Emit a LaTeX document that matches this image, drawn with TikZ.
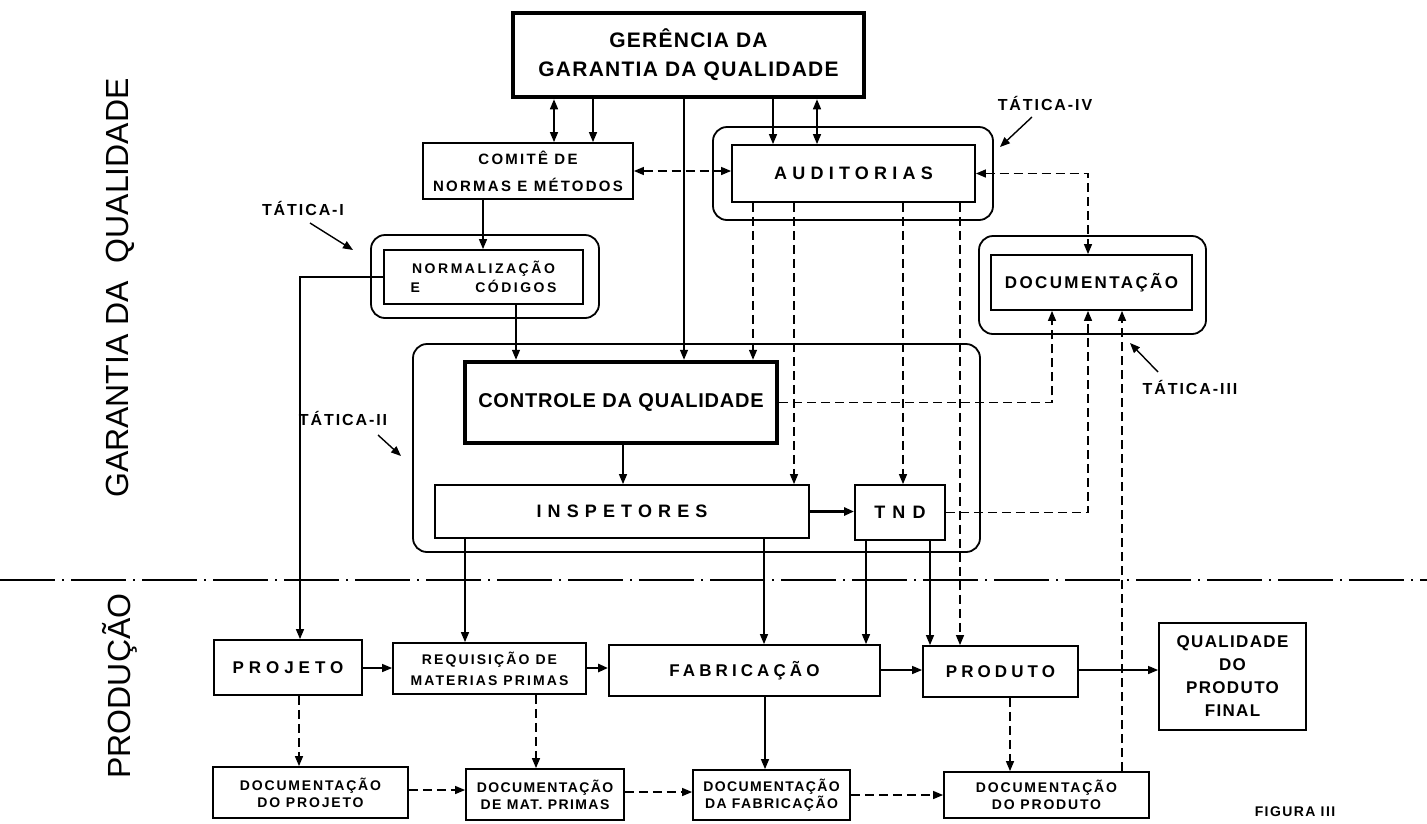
\documentclass[tikz,border=0pt]{standalone}
\usepackage{fontspec}
\setmainfont{Liberation Sans}
\usetikzlibrary{arrows.meta,calc}
\newcommand\fz[3]{\fontsize{#1}{#2}\selectfont\addfontfeatures{LetterSpace=#3}}
\newcommand\bx[7]{\node[#6, minimum width={(#4-#2)*1pt}, minimum height={(#5-#3)*1pt}] (#1) at ({(#2+#4)/2},{(#3+#5)/2}) {#7};}
\begin{document}
\begin{tikzpicture}[x=1pt,y=-1pt,
  box/.style={draw, line width=1.8pt, inner sep=0pt, align=center, font=\bfseries},
  thickbox/.style={draw, line width=4.5pt, inner sep=0pt, align=center},
  group/.style={draw, line width=1.8pt, rounded corners=14pt, inner sep=0pt},
  conn/.style={line width=1.4pt},
  arr/.style={conn, -{Triangle[length=10pt,width=8pt]}},
  darr/.style={conn, {Triangle[length=10pt,width=8pt]}-{Triangle[length=10pt,width=8pt]}},
  dsh/.style={dash pattern=on 9pt off 5pt},
  tat/.style={font=\bfseries\fz{16}{19}{12}, inner sep=0pt},
  side/.style={rotate=90, inner sep=0pt, font=\fontsize{32}{36}\selectfont}
]
\useasboundingbox (0,0) rectangle (1427,823);

% side labels
\node[side] (gq) at (120,288) {GARANTIA DA\ \ QUALIDADE};
\node[side] (pr) at (120,686) {PRODUÇÃO};

% groups
\bx{audG}{713}{127}{993}{220}{group}{}
\bx{docG}{979}{236}{1206}{334}{group}{}
\bx{normG}{371}{235}{599}{318}{group}{}
\bx{ctrlG}{413}{344}{980}{552}{group}{}

% boxes
\bx{ger}{513}{13}{864}{97}{thickbox, font=\bfseries\fz{21}{29}{6}}{GERÊNCIA DA\\GARANTIA DA QUALIDADE}
\bx{com}{423}{143}{633}{199}{box, font=\bfseries\fz{15}{27}{15}}{COMITÊ DE\\NORMAS E MÉTODOS}
\bx{aud}{732}{145}{975}{202}{box, font=\bfseries\fz{18}{21}{29}}{AUDITORIAS}
\bx{doc}{991}{255}{1192}{310}{box, font=\bfseries\fz{17}{20}{14}}{DOCUMENTAÇÃO}
\bx{norm}{384}{250}{583}{304}{box, font=\bfseries\fz{14}{19}{18}}{NORMALIZAÇÃO\\\makebox[146pt]{E\hfill CÓDIGOS}}
\bx{ctrl}{465}{362}{777}{443}{thickbox, font=\bfseries\fz{20}{23}{4}}{CONTROLE\ DA QUALIDADE}
\bx{insp}{435}{485}{809}{538}{box, font=\bfseries\fz{18}{21}{34}}{INSPETORES}
\bx{tnd}{855}{485}{945}{540}{box, font=\bfseries\fz{18}{21}{40}}{TND}
\bx{proj}{214}{640}{362}{695}{box, font=\bfseries\fz{17}{20}{29}}{PROJETO}
\bx{req}{393}{643}{586}{694}{box, font=\bfseries\fz{14}{21}{15}}{REQUISIÇÃO DE\\MATERIAS PRIMAS}
\bx{fab}{609}{645}{880}{696}{box, font=\bfseries\fz{17}{20}{24}}{FABRICAÇÃO}
\bx{prod}{923}{646}{1078}{697}{box, font=\bfseries\fz{17}{20}{24}}{PRODUTO}
\bx{qual}{1159}{623}{1306}{730}{box, font=\bfseries\fz{17}{23}{8}}{QUALIDADE\\DO\\PRODUTO\\FINAL}
\bx{dproj}{213}{767}{408}{818}{box, font=\bfseries\fz{14}{17}{13}}{DOCUMENTAÇÃO\\DO PROJETO}
\bx{dmat}{466}{769}{624}{820}{box, font=\bfseries\fz{14}{17}{10}}{DOCUMENTAÇÃO\\DE MAT. PRIMAS}
\bx{dfab}{693}{770}{850}{820}{box, font=\bfseries\fz{14}{17}{10}}{DOCUMENTAÇÃO\\DA FABRICAÇÃO}
\bx{dprod}{944}{772}{1149}{818}{box, font=\bfseries\fz{14}{17}{13}}{DOCUMENTAÇÃO\\DO PRODUTO}

% tactic labels
\node[tat] (t1) at (303,208) {TÁTICA-I};
\node[tat] (t2) at (343,418) {TÁTICA-II};
\node[tat] (t3) at (1190,387) {TÁTICA-III};
\node[tat] (t4) at (1045,103) {TÁTICA-IV};
\coordinate (t1s) at (310,223); \coordinate (t1e) at (353,250);
\coordinate (t2s) at (378,435); \coordinate (t2e) at (401,456);
\coordinate (t3s) at (1158,372); \coordinate (t3e) at (1130,343);
\coordinate (t4s) at (1032,117); \coordinate (t4e) at (1000,147);
\draw[arr] (t1s) -- (t1e);
\draw[arr] (t2s) -- (t2e);
\draw[arr] (t3s) -- (t3e);
\draw[arr] (t4s) -- (t4e);

\node[font=\bfseries\fz{14}{17}{10}, inner sep=0pt] (fig) at (1295,812) {FIGURA III};

% separator
\coordinate (sepL) at (0,580); \coordinate (sepR) at (1427,580);
\draw[line width=1.8pt, dash pattern=on 55pt off 7pt on 2pt off 7pt] (sepL) -- (sepR);

% connectors
\draw[darr] (554,0 |- ger.south) -- (554,0 |- com.north);
\draw[arr] (593,0 |- ger.south) -- (593,0 |- com.north);
\draw[arr] (684,0 |- ger.south) -- (684,0 |- ctrl.north);
\draw[arr] (773,0 |- ger.south) -- (773,0 |- aud.north);
\draw[darr] (817,0 |- ger.south) -- (817,0 |- aud.north);
\draw[darr,dsh] (com.east) -- (com.east -| aud.west);
\draw[arr] (483,0 |- com.south) -- (483,0 |- norm.north);
\draw[arr] (516,0 |- norm.south) -- (516,0 |- ctrl.north);
\draw[arr] (norm.west) -| (300,0 |- proj.north);
\draw[darr,dsh] (aud.east) -| (1088,0 |- doc.north);
\draw[arr,dsh] (753,0 |- aud.south) -- (753,0 |- ctrl.north);
\draw[arr,dsh] (794,0 |- aud.south) -- (794,0 |- insp.north);
\draw[arr,dsh] (903,0 |- aud.south) -- (903,0 |- tnd.north);
\draw[arr,dsh] (960,0 |- aud.south) -- (960,0 |- prod.north);
\draw[arr,dsh] (ctrl.east) -| (1052,0 |- doc.south);
\draw[arr] (623,0 |- ctrl.south) -- (623,0 |- insp.north);
\draw[arr, line width=2.6pt] (insp.east) -- (insp.east -| tnd.west);
\draw[arr,dsh] (tnd.east) -| (1088,0 |- doc.south);
\draw[arr] (465,0 |- insp.south) -- (465,0 |- req.north);
\draw[arr] (764,0 |- insp.south) -- (764,0 |- fab.north);
\draw[arr] (866,0 |- tnd.south) -- (866,0 |- fab.north);
\draw[arr] (930,0 |- tnd.south) -- (930,0 |- prod.north);
\draw[arr] (proj.east |- 0,668) -- (req.west |- 0,668);
\draw[arr, line width=2.6pt] (req.east |- 0,668) -- (fab.west |- 0,668);
\draw[arr] (fab.east |- 0,670) -- (prod.west |- 0,670);
\draw[arr] (prod.east |- 0,670) -- (qual.west |- 0,670);
\draw[arr,dsh] (299,0 |- proj.south) -- (299,0 |- dproj.north);
\draw[arr,dsh] (536,0 |- req.south) -- (536,0 |- dmat.north);
\draw[arr] (765,0 |- fab.south) -- (765,0 |- dfab.north);
\draw[arr,dsh] (1010,0 |- prod.south) -- (1010,0 |- dprod.north);
\draw[arr,dsh] (dproj.east |- 0,790) -- (dmat.west |- 0,790);
\draw[arr,dsh] (dmat.east |- 0,792) -- (dfab.west |- 0,792);
\draw[arr,dsh] (dfab.east |- 0,795) -- (dprod.west |- 0,795);
\draw[arr,dsh] (1122,0 |- dprod.north) -- (1122,0 |- doc.south);
\end{tikzpicture}
\end{document}
